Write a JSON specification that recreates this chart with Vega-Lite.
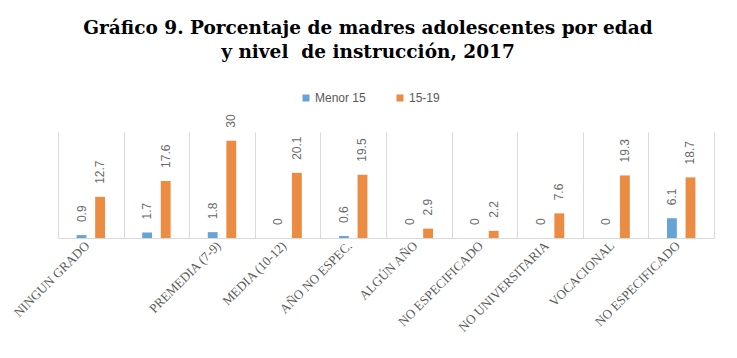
{
  "$schema": "https://vega.github.io/schema/vega-lite/v6.json",
  "width": 656,
  "height": 106,
  "autosize": {"type": "none"},
  "padding": {"left": 58, "top": 132, "right": 23, "bottom": 120},
  "background": "white",
  "title": {
    "text": ["Gráfico 9. Porcentaje de madres adolescentes por edad", "y nivel\u00a0 de instrucción, 2017"],
    "font": "DejaVu Serif",
    "fontSize": 18.5,
    "fontWeight": "bold",
    "color": "#000000",
    "anchor": "middle",
    "dx": -18,
    "offset": 31,
    "lineHeight": 24
  },
  "config": {"view": {"stroke": null}},
  "data": {
    "values": [
      {"nivel": "NINGUN GRADO", "edad": "Menor 15", "valor": 0.9},
      {"nivel": "NINGUN GRADO", "edad": "15-19", "valor": 12.7},
      {"nivel": " ", "edad": "Menor 15", "valor": 1.7},
      {"nivel": " ", "edad": "15-19", "valor": 17.6},
      {"nivel": "PREMEDIA (7-9)", "edad": "Menor 15", "valor": 1.8},
      {"nivel": "PREMEDIA (7-9)", "edad": "15-19", "valor": 30},
      {"nivel": "MEDIA (10-12)", "edad": "Menor 15", "valor": 0},
      {"nivel": "MEDIA (10-12)", "edad": "15-19", "valor": 20.1},
      {"nivel": "AÑO NO ESPEC.", "edad": "Menor 15", "valor": 0.6},
      {"nivel": "AÑO NO ESPEC.", "edad": "15-19", "valor": 19.5},
      {"nivel": "ALGÚN AÑO", "edad": "Menor 15", "valor": 0},
      {"nivel": "ALGÚN AÑO", "edad": "15-19", "valor": 2.9},
      {"nivel": "NO ESPECIFICADO", "edad": "Menor 15", "valor": 0},
      {"nivel": "NO ESPECIFICADO", "edad": "15-19", "valor": 2.2},
      {"nivel": "NO UNIVERSITARIA", "edad": "Menor 15", "valor": 0},
      {"nivel": "NO UNIVERSITARIA", "edad": "15-19", "valor": 7.6},
      {"nivel": "VOCACIONAL", "edad": "Menor 15", "valor": 0},
      {"nivel": "VOCACIONAL", "edad": "15-19", "valor": 19.3},
      {"nivel": "NO ESPECIFICADO ", "edad": "Menor 15", "valor": 6.1},
      {"nivel": "NO ESPECIFICADO ", "edad": "15-19", "valor": 18.7}
    ]
  },
  "encoding": {
    "x": {
      "field": "nivel",
      "type": "nominal",
      "sort": ["NINGUN GRADO", " ", "PREMEDIA (7-9)", "MEDIA (10-12)", "AÑO NO ESPEC.", "ALGÚN AÑO", "NO ESPECIFICADO", "NO UNIVERSITARIA", "VOCACIONAL", "NO ESPECIFICADO "],
      "scale": {"paddingInner": 0, "paddingOuter": 0},
      "axis": {
        "title": null,
        "tickBand": "extent",
        "grid": true,
        "gridColor": "#d9d9d9",
        "domainColor": "#d9d9d9",
        "ticks": false,
        "labelAngle": -45,
        "labelFont": "Liberation Serif",
        "labelFontSize": 13,
        "labelColor": "#595959",
        "labelPadding": 1,
        "labelOffset": -8
      }
    },
    "xOffset": {
      "field": "edad",
      "type": "nominal",
      "sort": ["Menor 15", "15-19"],
      "scale": {"paddingInner": 0.47, "paddingOuter": 1.165}
    },
    "y": {
      "field": "valor",
      "type": "quantitative",
      "scale": {"domain": [0, 32.7]},
      "axis": null
    }
  },
  "layer": [
    {
      "mark": {"type": "bar"},
      "encoding": {
        "color": {
          "field": "edad",
          "type": "nominal",
          "scale": {"domain": ["Menor 15", "15-19"], "range": ["#66A3D6", "#EB8C42"]},
          "legend": {
            "title": null,
            "orient": "none",
            "direction": "horizontal",
            "legendX": 242,
            "legendY": -40,
            "symbolType": "square",
            "symbolSize": 49,
            "labelOffset": 3,
            "labelFont": "Liberation Sans",
            "labelFontSize": 12,
            "labelColor": "#595959",
            "columnPadding": 28
          }
        }
      }
    },
    {
      "mark": {"type": "text", "angle": -90, "align": "left", "baseline": "middle", "dx": 13, "font": "Liberation Sans", "fontSize": 12, "color": "#6b6b6b"},
      "encoding": {
        "text": {"field": "valor", "type": "quantitative"}
      }
    }
  ]
}
